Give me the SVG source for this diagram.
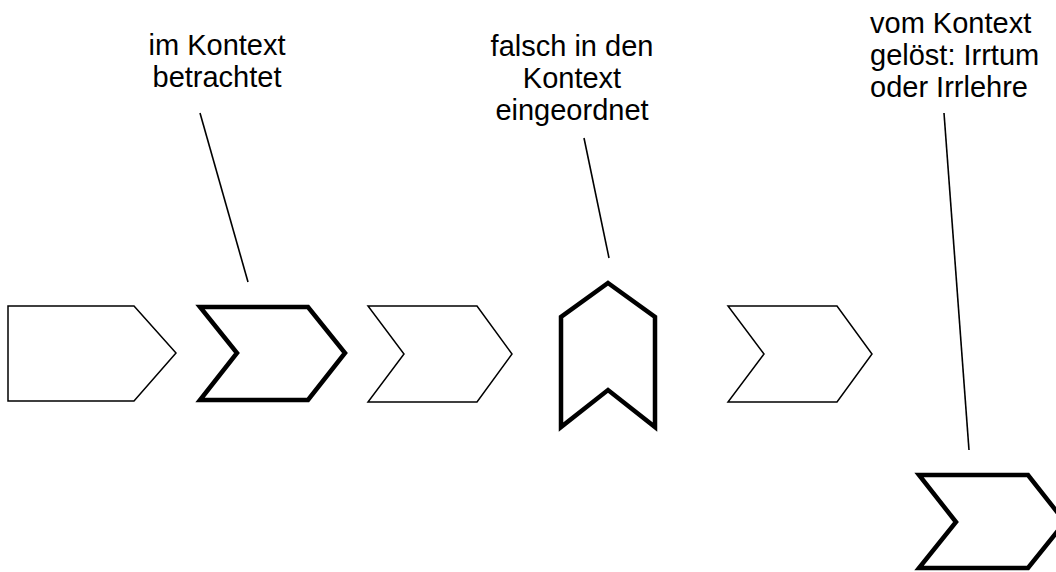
<svg xmlns="http://www.w3.org/2000/svg" width="1056" height="572" viewBox="0 0 1056 572">
<style>
.thin{fill:#fff;stroke:#000;stroke-width:1.5;stroke-linejoin:miter}
.thick{fill:#fff;stroke:#000;stroke-width:4.5;stroke-linejoin:miter}
.lbl{font-family:"Liberation Sans",Arial,sans-serif;font-size:29px;fill:#000}
.con line{stroke:#000;stroke-width:1.6}
</style>
<rect width="1056" height="572" fill="#fff"/>
<g id="shape1"><polygon class="thin" points="8,306 134,306 176,353 134,401 8,401"/></g>
<g id="shape2"><polygon class="thick" points="200,307 308,307 345,353 308,400 200,400 237,353"/></g>
<g id="shape3"><polygon class="thin" points="368,306 477,306 512,354 477,402 368,402 404,354"/></g>
<g id="shape4"><polygon class="thick" points="608,283 655,317 655,427 608,390 561,427 561,317"/></g>
<g id="shape5"><polygon class="thin" points="728,306 837,306 872,354 837,402 728,402 764,354"/></g>
<g id="shape6"><polygon class="thick" points="919,475 1028,475 1065,522 1028,568 919,568 956,522"/></g>
<g id="connectors" class="con">
<line x1="200" y1="113" x2="248" y2="282"/>
<line x1="584" y1="138" x2="609" y2="258"/>
<line x1="944" y1="113" x2="969" y2="450"/>
</g>
<g id="label1"><text class="lbl" x="217" y="55" text-anchor="middle">im Kontext<tspan x="217" dy="32">betrachtet</tspan></text></g>
<g id="label2"><text class="lbl" x="572" y="56" text-anchor="middle">falsch in den<tspan x="572" dy="32">Kontext</tspan><tspan x="572" dy="32">eingeordnet</tspan></text></g>
<g id="label3"><text class="lbl" x="870" y="33">vom Kontext<tspan x="870" dy="32">gelöst: Irrtum</tspan><tspan x="870" dy="32">oder Irrlehre</tspan></text></g>
</svg>
